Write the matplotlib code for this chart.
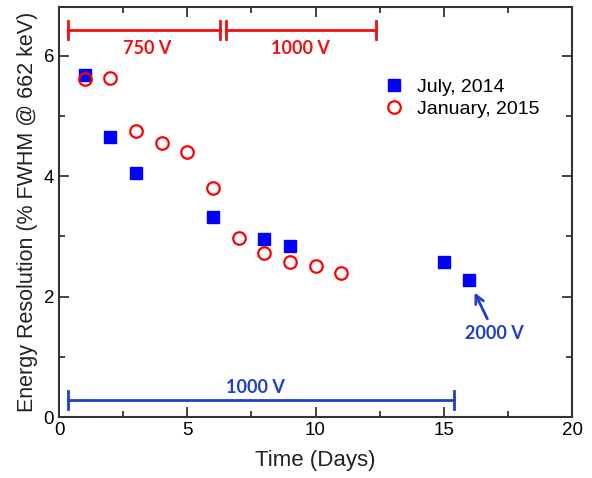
import matplotlib
matplotlib.use("Agg")
import matplotlib.pyplot as plt
from matplotlib.ticker import MultipleLocator

plt.rcParams['font.family'] = ['Liberation Sans', 'DejaVu Sans']

days_2014 = [1, 2, 3, 6, 8, 9, 15, 16]
res_2014 = [5.68, 4.66, 4.05, 3.33, 2.96, 2.84, 2.57, 2.28]
days_2015 = [1, 2, 3, 4, 5, 6, 7, 8, 9, 10, 11]
res_2015 = [5.62, 5.64, 4.75, 4.56, 4.41, 3.81, 2.97, 2.72, 2.57, 2.51, 2.39]

red_bars = [(0.36, 6.28, "750 V"), (6.51, 12.36, "1000 V")]
red_bar_y = 6.43
blue_bar = (0.36, 15.41, "1000 V")
blue_bar_y = 0.28

RED = "#ee1111"
BLUE_ANN = "#1e40c8"
ANN_FONT = ['Lato', 'DejaVu Sans']

fig = plt.figure(figsize=(5.92, 4.78), dpi=100)
ax = fig.add_axes([0.0997, 0.1276, 0.8666, 0.8574])

ax.plot(days_2014, res_2014, 's', color='#0000ff', markersize=8.5, linestyle='none', label='July, 2014')
ax.plot(days_2015, res_2015, 'o', markerfacecolor='none', markeredgecolor='#ff0000',
        markeredgewidth=1.6, markersize=9, linestyle='none', label='January, 2015')

def hbar(x0, x1, y, color, h):
    ax.plot([x0, x1], [y, y], color=color, lw=2)
    ax.plot([x0, x0], [y - h, y + h], color=color, lw=2)
    ax.plot([x1, x1], [y - h, y + h], color=color, lw=2)

for x0, x1, lab in red_bars:
    hbar(x0, x1, red_bar_y, RED, 0.15)
ax.text(3.42, 6.13, red_bars[0][2], color=RED, fontsize=13, fontweight='bold',
        ha='center', va='center', family=ANN_FONT)
ax.text(9.4, 6.13, red_bars[1][2], color=RED, fontsize=13, fontweight='bold',
        ha='center', va='center', family=ANN_FONT)

hbar(blue_bar[0], blue_bar[1], blue_bar_y, BLUE_ANN, 0.15)
ax.text(7.64, 0.49, blue_bar[2], color=BLUE_ANN, fontsize=13, fontweight='bold',
        ha='center', va='center', family=ANN_FONT)

ax.annotate("", xy=(16.2, 2.07), xytext=(16.7, 1.63),
            arrowprops=dict(arrowstyle='->', color=BLUE_ANN, lw=2,
                            shrinkA=0, shrinkB=0, mutation_scale=15))
ax.text(16.96, 1.38, "2000 V", color=BLUE_ANN, fontsize=13, fontweight='bold',
        ha='center', va='center', family=ANN_FONT)

ax.set_xlim(0, 20)
ax.set_ylim(0, 6.81)
ax.xaxis.set_major_locator(MultipleLocator(5))
ax.xaxis.set_minor_locator(MultipleLocator(2.5))
ax.yaxis.set_major_locator(MultipleLocator(2))
ax.yaxis.set_minor_locator(MultipleLocator(1))
ax.tick_params(which='both', direction='in', top=True, right=True, labelsize=13.5, color='#222222')
ax.tick_params(which='major', length=7, width=1.2)
ax.tick_params(which='minor', length=4, width=1.2)
for s in ax.spines.values():
    s.set_linewidth(1.5)
    s.set_color('#333333')

ax.set_xlabel("Time (Days)", fontsize=16, color='#222222', labelpad=8)
ax.set_ylabel("Energy Resolution (% FWHM @ 662 keV)", fontsize=15.5, color='#222222')

ax.legend(loc='upper left', bbox_to_anchor=(0.6, 0.87), frameon=False, fontsize=14,
          handletextpad=0.7, labelspacing=0.25, handlelength=1.0)

fig.savefig("out.png", dpi=100)
